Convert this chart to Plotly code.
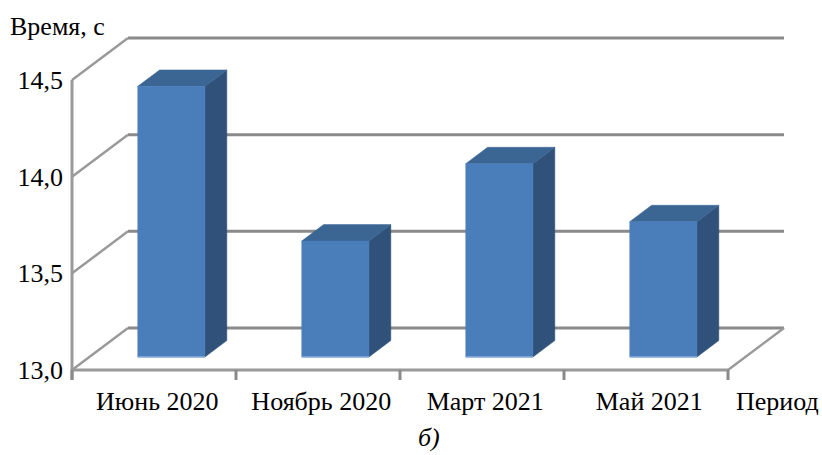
import plotly.graph_objects as go

# ---- data ----
categories = ["Июнь 2020", "Ноябрь 2020", "Март 2021", "Май 2021"]
values = [14.40, 13.60, 14.00, 13.70]
y_ticks = [13.0, 13.5, 14.0, 14.5]
y_tick_text = ["13,0", "13,5", "14,0", "14,5"]
y_title = "Время, с"
x_title = "Период"
caption = "б)"

# ---- 3D projection parameters (in axis units) ----
Y0 = y_ticks[0]
DX = 0.3415   # depth shift in category units
DY = 0.2172   # depth shift in value units
F0, F1 = 0.31, 0.70   # bar front/back depth fractions
HW = 0.205            # bar half width
N = len(categories)

GRID = "#8a8a8a"
FRONT = "#4a7ebb"
SIDE = "#30527a"
TOP = "#3b6593"

def proj(x, y, f):
    return x + f * DX, y + f * DY

fig = go.Figure()

def line(xs, ys, color=GRID, width=3):
    fig.add_trace(go.Scatter(x=xs, y=ys, mode="lines", line=dict(color=color, width=width),
                             hoverinfo="skip", showlegend=False))

# back wall gridlines + left wall diagonals
for v in y_ticks:
    a = proj(0, v, 1)
    b = proj(N, v, 1)
    line([a[0], b[0]], [a[1], b[1]])
    line([0, a[0]], [v, a[1]], color="#9a9a9a", width=2.5)

# floor right edge
c = proj(N, Y0, 1)
line([N, c[0]], [Y0, c[1]], color="#9a9a9a", width=2.5)
# front vertical axis
line([0, 0], [Y0 - 0.05, y_ticks[-1]], color="#9a9a9a", width=3)
# front floor edge
line([0, N], [Y0, Y0], color="#9a9a9a", width=3)
# category tick marks
for i in range(N + 1):
    line([i, i], [Y0, Y0 - 0.052], color="#8a8a8a", width=3)

def poly(pts, color):
    xs = [p[0] for p in pts] + [pts[0][0]]
    ys = [p[1] for p in pts] + [pts[0][1]]
    fig.add_trace(go.Scatter(x=xs, y=ys, mode="lines", fill="toself", fillcolor=color,
                             line=dict(color=color, width=0.5), hoverinfo="skip", showlegend=False))

for i, v in enumerate(values):
    cx = i + 0.5
    L, R = cx - HW, cx + HW
    # side face
    poly([proj(R, Y0, F0), proj(R, v, F0), proj(R, v, F1), proj(R, Y0, F1)], SIDE)
    # top face
    poly([proj(L, v, F0), proj(R, v, F0), proj(R, v, F1), proj(L, v, F1)], TOP)
    # front face
    poly([proj(L, Y0, F0), proj(R, Y0, F0), proj(R, v, F0), proj(L, v, F0)], FRONT)
    # light bottom edge
    p1, p2 = proj(L, Y0, F0), proj(R, Y0, F0)
    line([p1[0], p2[0]], [p1[1], p2[1]], color="#8fb0dc", width=1.5)

FONT = "Liberation Serif"
FS = 26

fig.update_layout(
    width=822, height=455,
    margin=dict(l=66, r=22, t=30, b=75),
    paper_bgcolor="white", plot_bgcolor="white",
    font=dict(family=FONT, size=FS, color="black"),
    showlegend=False,
    xaxis=dict(range=[-6 / 164, -6 / 164 + 734 / 164], tickvals=[i + 0.52 for i in range(N)],
               ticktext=categories, showgrid=False, zeroline=False, showline=False, ticks="",
               ticklabelstandoff=3, fixedrange=True, tickfont=dict(family=FONT, size=FS)),
    yaxis=dict(range=[Y0 - 10 / 193.33, Y0 - 10 / 193.33 + 350 / 193.33], tickvals=y_ticks,
               ticktext=y_tick_text, showgrid=False, zeroline=False, showline=False, ticks="",
               ticklabelstandoff=2, fixedrange=True, tickfont=dict(family=FONT, size=FS)),
    annotations=[
        dict(text=y_title, xref="paper", yref="paper", x=(8 - 66) / 734, y=(380 - 27) / 350,
             xanchor="left", yanchor="middle", showarrow=False, font=dict(family=FONT, size=FS)),
        dict(text=x_title, xref="paper", yref="paper", x=(734 - 66) / 734, y=(380 - 401) / 350,
             xanchor="left", yanchor="middle", showarrow=False, font=dict(family=FONT, size=FS)),
        dict(text="<i>" + caption + "</i>", xref="paper", yref="paper", x=(429 - 66) / 734,
             y=(380 - 437) / 350, xanchor="center", yanchor="middle", showarrow=False,
             font=dict(family=FONT, size=FS)),
    ],
)

fig.write_html("out.html")
